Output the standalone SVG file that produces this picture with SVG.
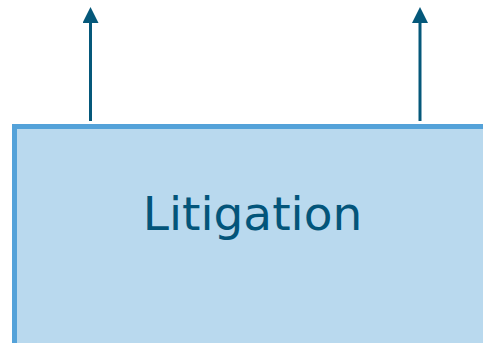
<svg xmlns="http://www.w3.org/2000/svg" width="483" height="343" viewBox="0 0 483 343">
<style>
.box{fill:#b9d9ee;stroke:#54a2d9;stroke-width:5}
.lbl{font-family:"DejaVu Sans",sans-serif;font-size:47px;fill:#03557a;text-anchor:middle}
.conn{stroke:#05587a;stroke-width:3;fill:none;marker-end:url(#ah)}
</style>
<defs>
<marker id="ah" viewBox="0 0 16 16" refX="3" refY="8" markerWidth="16" markerHeight="16" markerUnits="userSpaceOnUse" orient="auto">
<path d="M0,0 L16,8 L0,16 Z" fill="#05587a"/>
</marker>
</defs>
<g id="litigation">
<rect class="box" x="14.5" y="126.5" width="480" height="240"/>
<text class="lbl" x="252.5" y="230">Litigation</text>
</g>
<g id="connectors">
<path class="conn" d="M90.5,121 V20"/>
<path class="conn" d="M420,121 V20"/>
</g>
</svg>
